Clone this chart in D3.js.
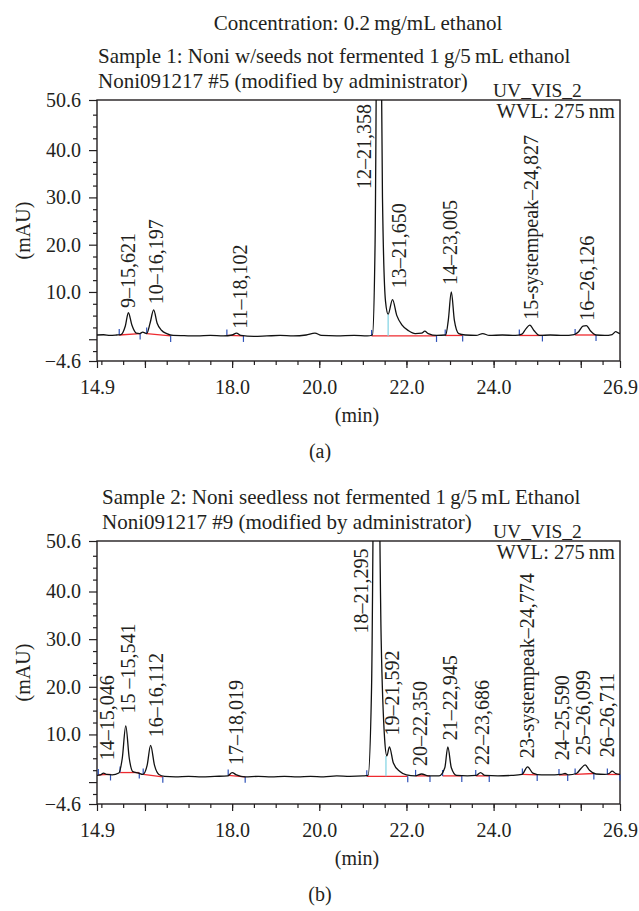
<!DOCTYPE html>
<html>
<head>
<meta charset="utf-8">
<script src="https://cdn.jsdelivr.net/npm/d3@7"></script>
<style>
body { margin: 0; background: #fff; }
text { font-family: "Liberation Serif", "Times New Roman", serif; fill: #231f20; }
</style>
</head>
<body>
<script>
// chromatogram traces (time in min, signal in mAU)
var timesA = [14.90, 15.05, 15.20, 15.35, 15.45, 15.55, 15.62, 15.70, 15.80, 15.88, 15.95, 16.04, 16.12, 16.20, 16.28, 16.38, 16.50, 16.65,
  16.90, 17.20, 17.50, 17.80, 18.00, 18.10, 18.20, 18.50, 18.80, 19.10, 19.40, 19.70, 19.90, 20.05, 20.40, 20.80, 21.10, 21.22,
  21.28, 21.36, 21.45, 21.52, 21.58, 21.68, 21.78, 21.90, 22.05, 22.20, 22.35, 22.42, 22.50, 22.70, 22.90, 22.96, 23.03, 23.10,
  23.20, 23.35, 23.60, 23.75, 23.90, 24.20, 24.50, 24.65, 24.74, 24.83, 24.93, 25.05, 25.30, 25.60, 25.85, 25.95, 26.05, 26.13,
  26.22, 26.35, 26.55, 26.72, 26.80, 26.87, 26.90];
var valuesA = [0.9, 0.95, 0.8, 0.9, 1.0, 2.8, 5.6, 3.0, 1.3, 1.2, 1.5, 1.2, 3.5, 6.2, 3.4, 1.9, 1.2, 0.8,
  0.75, 0.7, 0.8, 0.7, 0.9, 1.3, 0.8, 0.6, 0.7, 0.8, 0.7, 0.9, 1.3, 0.8, 0.7, 0.8, 0.7, 0.9,
  20, 120, 30, 8, 5.3, 8.4, 5.0, 3.0, 1.8, 1.2, 1.3, 1.7, 1.2, 0.8, 0.9, 4, 10.0, 4,
  1.2, 0.9, 0.8, 1.2, 0.8, 0.9, 0.8, 1.1, 2.2, 3.0, 1.8, 0.8, 0.9, 0.8, 1.0, 1.6, 2.8, 2.9,
  1.8, 0.9, 0.8, 1.0, 1.6, 1.3, 1.2];

var timesB = [14.90, 14.98, 15.05, 15.12, 15.25, 15.40, 15.48, 15.56, 15.64, 15.72, 15.85, 15.95, 16.05, 16.13, 16.22, 16.32, 16.45,
  16.70, 17.00, 17.30, 17.60, 17.90, 18.00, 18.10, 18.30, 18.60, 18.90, 19.20, 19.50, 19.80, 20.10, 20.40, 20.70, 21.00, 21.12,
  21.20, 21.30, 21.42, 21.50, 21.55, 21.61, 21.70, 21.85, 22.00, 22.20, 22.35, 22.50, 22.75, 22.88, 22.95, 23.03, 23.15, 23.40,
  23.60, 23.70, 23.80, 24.10, 24.40, 24.65, 24.78, 24.90, 25.10, 25.40, 25.55, 25.64, 25.72, 25.90, 26.00, 26.10, 26.20, 26.35,
  26.55, 26.65, 26.72, 26.80, 26.90];
var valuesB = [1.4, 1.5, 1.9, 1.6, 1.5, 1.9, 5, 11.8, 5, 2.2, 1.9, 1.6, 3.5, 7.7, 3.5, 1.6, 1.2,
  1.1, 1.2, 1.1, 1.2, 1.3, 2.0, 1.5, 1.1, 1.2, 1.1, 1.2, 1.1, 1.2, 1.1, 1.3, 1.2, 1.3, 1.4,
  20, 120, 30, 9, 5.5, 7.4, 4, 2.2, 1.5, 1.3, 1.7, 1.3, 1.3, 3, 7.4, 3, 1.4, 1.3,
  1.4, 2.0, 1.4, 1.3, 1.4, 1.6, 3.2, 1.9, 1.5, 1.5, 1.6, 1.8, 1.5, 1.8, 2.8, 3.6, 2.5, 1.7,
  1.6, 1.8, 2.3, 1.8, 1.6];

// integration baselines: start / end time, start / end level
var intStartA = [15.41, 16.04, 17.88, 21.20, 22.89, 24.59, 25.87];
var intEndA = [15.89, 16.59, 18.26, 22.69, 23.29, 25.12, 26.35];
var intStartValA = [0.9, 1.2, 0.8, 0.7, 0.8, 0.8, 0.9];
var intEndValA = [1.2, 0.7, 0.7, 0.7, 0.8, 0.8, 0.9];
var dropTimesA = [21.58];
var dropValsA = [5.3];

var intStartB = [14.93, 15.43, 15.96, 17.91, 21.09, 22.21, 22.83, 23.59, 24.66, 25.50, 25.87, 26.61];
var intEndB = [15.21, 15.87, 16.41, 18.30, 22.03, 22.54, 23.27, 23.90, 25.00, 25.70, 26.30, 26.90];
var intStartValB = [1.5, 2.0, 1.6, 1.4, 1.2, 1.3, 1.3, 1.3, 1.6, 1.5, 1.6, 1.6];
var intEndValB = [1.6, 2.0, 1.1, 1.1, 1.2, 1.3, 1.3, 1.3, 1.5, 1.5, 1.8, 1.6];
var dropTimesB = [21.53];
var dropValsB = [5.5];

// peak labels, with the time / level where each label starts
var labelsA = ["9–15,621", "10–16,197", "11–18,102", "12–21,358", "13–21,650", "14–23,005", "15-systempeak–24,827", "16–26,126"];
var labelTimesA = [15.61, 16.25, 18.18, 21.03, 21.83, 23.01, 24.85, 26.15];
var labelValsA = [6.6, 7.4, 2.2, 31.8, 10.8, 11.5, 4.1, 3.9];

var labelsB = ["14–15,046", "15 –15,541", "16–16,112", "17–18,019", "18–21,295", "19–21,592", "20–22,350", "21–22,945",
  "22–23,686", "23-systempeak–24,774", "24–25,590", "25–26,099", "26–26,711"];
var labelTimesB = [15.13, 15.61, 16.25, 18.09, 20.96, 21.67, 22.31, 23.00, 23.73, 24.77, 25.57, 26.05, 26.60];
var labelValsB = [4.6, 14.4, 9.4, 3.6, 31.2, 9.8, 3.35, 8.8, 3.6, 5.0, 4.6, 5.65, 5.2];

// axes
var xDomain = [14.9, 26.9];
var yDomain = [-4.6, 50.6];
var xTickValues = [14.9, 18, 20, 22, 24, 26.9];
var xTickLabels = ["14.9", "18.0", "20.0", "22.0", "24.0", "26.9"];
var xMajorTicks = [14.9, 16, 18, 20, 22, 24, 26, 26.9];
var yTickValues = [50.6, 40, 30, 20, 10, -4.6];
var yTickLabels = ["50.6", "40.0", "30.0", "20.0", "10.0", "−4.6"];
var yMajorTicks = [50.6, 40, 30, 20, 10, 0, -4.6];

var width = 639;
var height = 911;
var svg = d3.select("body").append("svg")
  .attr("width", width)
  .attr("height", height);

svg.append("text")
  .attr("x", 358).attr("y", 30)
  .attr("text-anchor", "middle")
  .attr("font-size", 21)
  .text("Concentration: 0.2\u2009mg/mL ethanol");

function drawPanel(p) {
  var x = d3.scaleLinear().domain(xDomain).range([97, 620]);
  var y = d3.scaleLinear().domain(yDomain).range([p.bottom, p.top]);
  var g = svg.append("g");

  // headers
  g.append("text").attr("x", p.textX).attr("y", p.top - 37).attr("font-size", 21).text(p.sample);
  g.append("text").attr("x", p.textX).attr("y", p.top - 12).attr("font-size", 21).text(p.run);
  g.append("text").attr("x", 493).attr("y", p.top - 3).attr("font-size", 19.5).text("UV_VIS_2");
  g.append("text").attr("x", 615).attr("y", p.top + 18).attr("font-size", 20.5)
    .attr("text-anchor", "end").text("WVL: 275\u2009nm");

  // minor ticks
  var xMinor = d3.range(15, 26.9, 0.5);
  var yMinor = d3.range(-2.5, 50, 2.5).filter(function(v) { return v % 10 !== 0; });
  g.append("g").attr("transform", "translate(0," + p.bottom + ")")
    .call(d3.axisBottom(x).tickValues(xMinor).tickSize(4).tickFormat(""))
    .call(function(s) { s.select(".domain").remove(); });
  g.append("g").attr("transform", "translate(97,0)")
    .call(d3.axisLeft(y).tickValues(yMinor).tickSize(4).tickFormat(""))
    .call(function(s) { s.select(".domain").remove(); });

  // major ticks and labels
  g.append("g").attr("transform", "translate(0," + p.bottom + ")")
    .call(d3.axisBottom(x).tickValues(xMajorTicks).tickSize(7).tickFormat(""))
    .call(function(s) { s.select(".domain").remove(); });
  g.append("g").attr("transform", "translate(97,0)")
    .call(d3.axisLeft(y).tickValues(yMajorTicks).tickSize(8).tickFormat(""))
    .call(function(s) { s.select(".domain").remove(); });
  g.append("g").attr("transform", "translate(0," + p.bottom + ")")
    .call(d3.axisBottom(x).tickValues(xTickValues).tickSize(0).tickPadding(19)
      .tickFormat(function(d, i) { return xTickLabels[i]; }))
    .call(function(s) {
      s.select(".domain").remove();
      s.selectAll("text").attr("font-size", 20).attr("font-family", null).attr("fill", "#231f20");
    });
  g.append("g").attr("transform", "translate(97,0)")
    .call(d3.axisLeft(y).tickValues(yTickValues).tickSize(0).tickPadding(16)
      .tickFormat(function(d, i) { return yTickLabels[i]; }))
    .call(function(s) {
      s.select(".domain").remove();
      s.selectAll("text").attr("font-size", 20).attr("font-family", null).attr("fill", "#231f20");
    });
  g.selectAll(".tick line").attr("stroke", "#231f20").attr("stroke-width", 1.2);

  // frame
  g.append("rect")
    .attr("x", 97).attr("y", p.top)
    .attr("width", 620 - 97).attr("height", p.bottom - p.top)
    .attr("fill", "none").attr("stroke", "#231f20").attr("stroke-width", 1.4);

  // axis titles
  g.append("text").attr("x", 357).attr("y", p.bottom + 61)
    .attr("text-anchor", "middle").attr("font-size", 20).text("(min)");
  g.append("text")
    .attr("transform", "translate(23," + ((p.top + p.bottom) / 2) + ") rotate(-90)")
    .attr("dy", "0.35em")
    .attr("text-anchor", "middle").attr("font-size", 20).text("(mAU)");
  g.append("text").attr("x", 320).attr("y", p.bottom + 97)
    .attr("text-anchor", "middle").attr("font-size", 20).text(p.tag);

  // integration baselines
  var ints = p.intStart.map(function(s, i) {
    return { s: s, e: p.intEnd[i], sv: p.intStartVal[i], ev: p.intEndVal[i] };
  });
  g.selectAll(".base").data(ints).enter().append("line")
    .attr("x1", function(d) { return x(d.s); }).attr("x2", function(d) { return x(d.e); })
    .attr("y1", function(d) { return y(d.sv); }).attr("y2", function(d) { return y(d.ev); })
    .attr("stroke", "#ee2a2f").attr("stroke-width", 1.3);
  g.selectAll(".tickS").data(ints).enter().append("line")
    .attr("x1", function(d) { return x(d.s); }).attr("x2", function(d) { return x(d.s); })
    .attr("y1", function(d) { return y(d.sv); }).attr("y2", function(d) { return y(d.sv) - 6; })
    .attr("stroke", "#2f52b8").attr("stroke-width", 1.2);
  g.selectAll(".tickE").data(ints).enter().append("line")
    .attr("x1", function(d) { return x(d.e); }).attr("x2", function(d) { return x(d.e); })
    .attr("y1", function(d) { return y(d.ev); }).attr("y2", function(d) { return y(d.ev) + 6; })
    .attr("stroke", "#2f52b8").attr("stroke-width", 1.2);
  g.selectAll(".drop").data(p.dropTimes).enter().append("line")
    .attr("x1", function(d) { return x(d); }).attr("x2", function(d) { return x(d); })
    .attr("y1", function(d, i) { return y(p.dropBase[i]); })
    .attr("y2", function(d, i) { return y(p.dropVals[i]); })
    .attr("stroke", "#7fd3e3").attr("stroke-width", 1.2);

  // trace
  var clipId = "clip" + p.tag.replace(/\W/g, "");
  svg.append("clipPath").attr("id", clipId).append("rect")
    .attr("x", 97).attr("y", p.top).attr("width", 620 - 97).attr("height", p.bottom - p.top);
  var line = d3.line()
    .x(function(d) { return x(d[0]); })
    .y(function(d) { return y(d[1]); })
    .curve(d3.curveMonotoneX);
  g.append("path")
    .datum(p.times.map(function(t, i) { return [t, p.values[i]]; }))
    .attr("clip-path", "url(#" + clipId + ")")
    .attr("d", line)
    .attr("fill", "none").attr("stroke", "#111").attr("stroke-width", 1.3);

  // peak labels
  g.selectAll(".plabel").data(p.labels).enter().append("text")
    .attr("transform", function(d, i) {
      return "translate(" + x(p.labelTimes[i]) + "," + y(p.labelVals[i]) + ") rotate(-90)";
    })
    .attr("dy", "0.35em")
    .attr("font-size", 20)
    .text(function(d) { return d; });
}

drawPanel({
  top: 100, bottom: 361, textX: 98, tag: "(a)",
  sample: "Sample 1: Noni w/seeds not fermented 1\u2009g/5\u2009mL ethanol",
  run: "Noni091217 #5 (modified by administrator)",
  times: timesA, values: valuesA,
  intStart: intStartA, intEnd: intEndA, intStartVal: intStartValA, intEndVal: intEndValA,
  dropTimes: dropTimesA, dropVals: dropValsA, dropBase: [0.7],
  labels: labelsA, labelTimes: labelTimesA, labelVals: labelValsA
});
drawPanel({
  top: 541, bottom: 804, textX: 102, tag: "(b)",
  sample: "Sample 2: Noni seedless not fermented 1\u2009g/5\u2009mL Ethanol",
  run: "Noni091217 #9 (modified by administrator)",
  times: timesB, values: valuesB,
  intStart: intStartB, intEnd: intEndB, intStartVal: intStartValB, intEndVal: intEndValB,
  dropTimes: dropTimesB, dropVals: dropValsB, dropBase: [1.2],
  labels: labelsB, labelTimes: labelTimesB, labelVals: labelValsB
});
</script>
</body>
</html>
